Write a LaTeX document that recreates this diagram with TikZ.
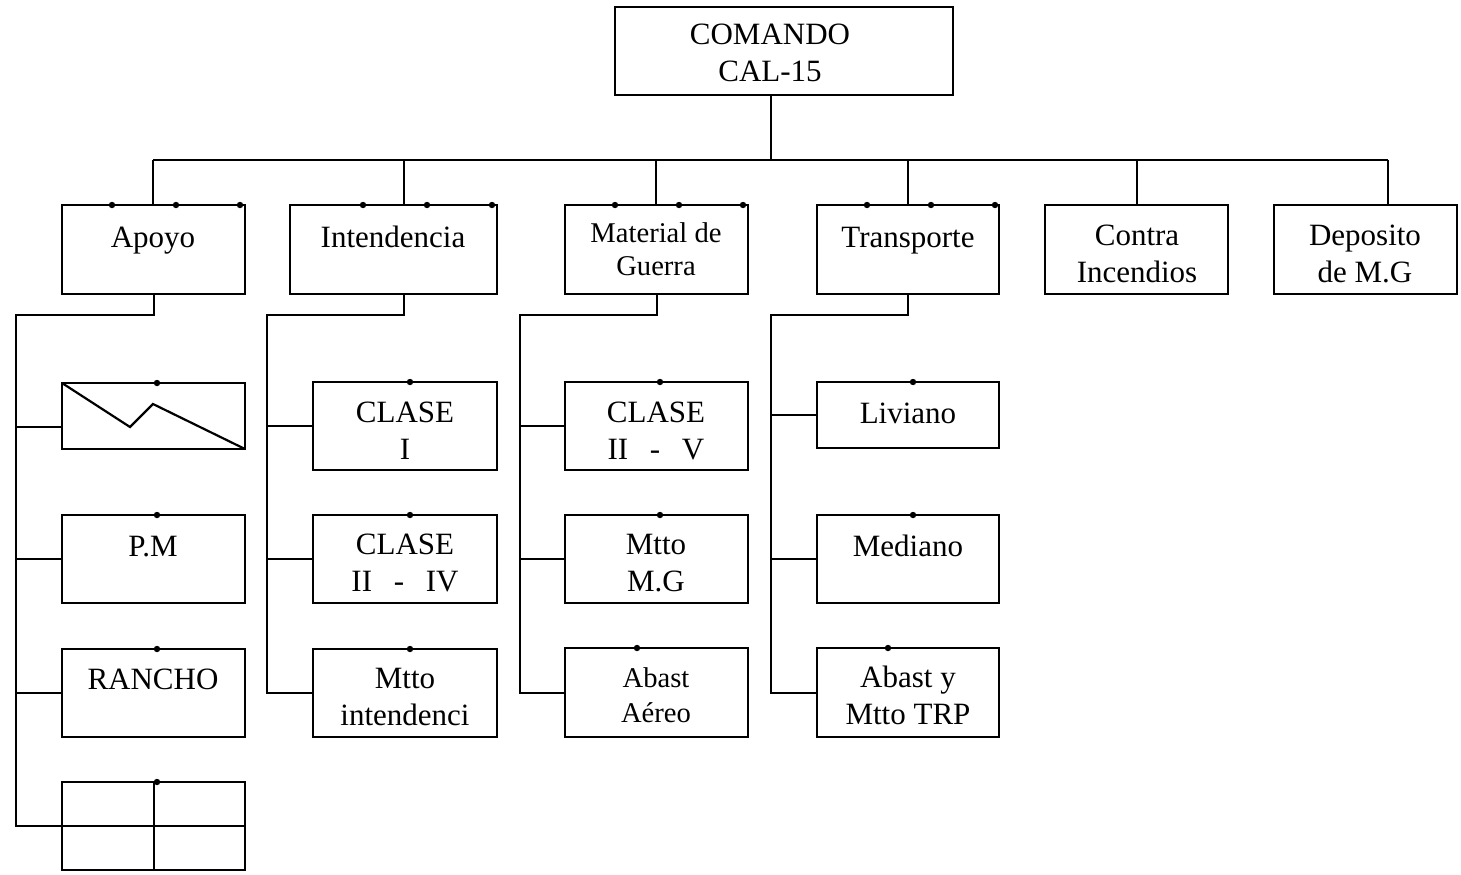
\documentclass[tikz,border=0pt]{standalone}
\usepackage{fontspec}
\setmainfont{Liberation Serif}
\tikzset{
  box/.style={draw, line width=1.1pt, inner sep=0pt, outer sep=0pt},
  lbl/.style={anchor=north, inner sep=0pt, align=center, font=\fontsize{15.5pt}{18.5pt}\selectfont},
  smalllbl/.style={font=\fontsize{14.3pt}{16.5pt}\selectfont},
  conn/.style={line width=1pt},
  dotmark/.style={fill=black}
}
\newcommand\bx[5]{\node[box, minimum width={(#4-#2)*0.5pt}, minimum height={(#5-#3)*0.5pt}] (#1) at ({(#2+#4)/2},{(#3+#5)/2}) {};}
\newcommand\lb[4][]{\node[lbl,#1] at (#2,{#3-26}) {\rule{0pt}{13pt}#4};}
\newcommand\dt[2]{\fill[dotmark] (#1,#2) circle (1.6pt);}
\begin{document}
\begin{tikzpicture}[x=0.5pt,y=-0.5pt]
\useasboundingbox (0,0) rectangle (1461,874);
% top
\bx{cmd}{615}{7}{953}{95}
\lb{770}{44}{COMANDO\\CAL-15}
% second row
\bx{apoyo}{62}{205}{245}{294}
\bx{inten}{290}{205}{497}{294}
\bx{mat}{565}{205}{748}{294}
\bx{trans}{817}{205}{999}{294}
\bx{contra}{1045}{205}{1228}{294}
\bx{depo}{1274}{205}{1457}{294}
\lb{153}{247}{Apoyo}
\lb{393}{247}{Intendencia}
\lb[smalllbl]{656}{242}{Material de\\Guerra}
\lb{908}{247}{Transporte}
\lb{1137}{245}{Contra\\Incendios}
\lb{1365}{245}{Deposito\\de M.G}
% apoyo column
\bx{zz}{62}{383}{245}{449}
\bx{pm}{62}{515}{245}{603}
\bx{rancho}{62}{649}{245}{737}
\bx{grid}{62}{782}{245}{870}
\draw[line width=1.1pt] (zz.north west) -- (130,427) -- (153,404) -- (zz.south east);
\draw[line width=1pt] (grid.north) -- (grid.south);
\draw[line width=1pt] (grid.west) -- (grid.east);
\lb{153}{556}{P.M}
\lb{153}{689}{RANCHO}
% intendencia column
\bx{c1}{313}{382}{497}{470}
\bx{c2}{313}{515}{497}{603}
\bx{mi}{313}{649}{497}{737}
\lb{405}{422}{CLASE\\I}
\lb{405}{554}{CLASE\\II\hspace{0.7em}-\hspace{0.7em}IV}
\lb{405}{688}{Mtto\\intendenci}
% material column
\bx{c5}{565}{382}{748}{470}
\bx{mmg}{565}{515}{748}{603}
\bx{aa}{565}{648}{748}{737}
\lb{656}{422}{CLASE\\II\hspace{0.7em}-\hspace{0.7em}V}
\lb{656}{554}{Mtto\\M.G}
\node[lbl, font=\fontsize{14.3pt}{17.5pt}\selectfont] at (656,{687-26}) {\rule{0pt}{13pt}Abast\\Aéreo};
% transporte column
\bx{liv}{817}{382}{999}{448}
\bx{med}{817}{515}{999}{603}
\bx{atrp}{817}{648}{999}{737}
\lb{908}{423}{Liviano}
\lb{908}{556}{Mediano}
\lb{908}{687}{Abast y\\Mtto TRP}
% main bus
\coordinate (bus) at (771,160);
\coordinate (bA) at (153,160);
\coordinate (bB) at (404,160);
\coordinate (bC) at (656,160);
\coordinate (bD) at (908,160);
\coordinate (bE) at (1137,160);
\coordinate (bF) at (1388,160);
\draw[conn] (cmd.south -| bus) -- (bus);
\draw[conn] (bA) -- (bF);
\foreach \b/\n in {bA/apoyo,bB/inten,bC/mat,bD/trans,bE/contra,bF/depo}
  {\draw[conn] (\b) -- (\b |- \n.north);}
% sub trunks
\coordinate (tA) at (16,315);
\coordinate (tB) at (267,315);
\coordinate (tC) at (520,315);
\coordinate (tD) at (771,315);
\draw[conn] (apoyo.south) |- (tA) |- (grid.west);
\draw[conn] (16,427) -- (zz.west |- 16,427);
\draw[conn] (tA |- pm.west) -- (pm.west);
\draw[conn] (tA |- rancho.west) -- (rancho.west);
\draw[conn] (404,294) |- (tB) |- (mi.west);
\draw[conn] (tB |- c1.west) -- (c1.west);
\draw[conn] (tB |- c2.west) -- (c2.west);
\draw[conn] (mat.south) |- (tC) |- (aa.west);
\draw[conn] (tC |- c5.west) -- (c5.west);
\draw[conn] (tC |- mmg.west) -- (mmg.west);
\draw[conn] (trans.south) |- (tD) |- (atrp.west);
\draw[conn] (tD |- liv.west) -- (liv.west);
\draw[conn] (tD |- med.west) -- (med.west);
% dots
\foreach \x in {112,176,240,363,427,492,615,679,743,867,931,995} {\dt{\x}{205}}
\dt{157}{383}\dt{157}{515}\dt{157}{649}\dt{157}{782}
\dt{410}{382}\dt{410}{515}\dt{410}{649}
\dt{660}{382}\dt{660}{515}\dt{637}{648}
\dt{913}{382}\dt{913}{515}\dt{888}{648}
\end{tikzpicture}
\end{document}
